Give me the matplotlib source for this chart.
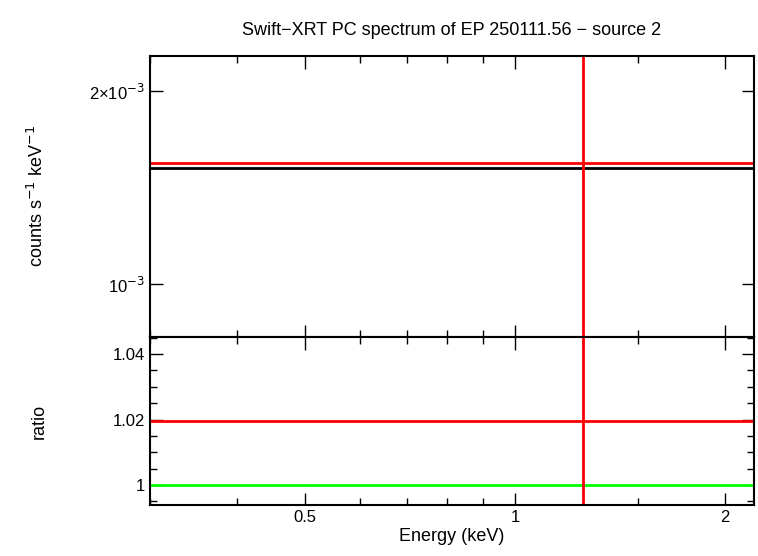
import matplotlib
matplotlib.use("Agg")
import matplotlib.pyplot as plt
from matplotlib import ticker

plt.rcParams["font.family"] = "Liberation Sans"

# data
energy_range = [0.3, 2.2]
model_level = 1.52e-3
data_level = 1.545e-3
ratio_level = 1.0195
unity = 1.0
vline_energy = 1.252

fig = plt.figure(figsize=(7.58, 5.56), dpi=100)
ax1 = fig.add_axes([150/758, 1-337/556, 604/758, 281/556])
ax2 = fig.add_axes([150/758, 1-505/556, 604/758, 168/556], sharex=ax1)

ax1.plot(energy_range, [model_level]*2, color="black", lw=2)
ax1.plot(energy_range, [data_level]*2, color="red", lw=2)
ax1.axvline(vline_energy, color="red", lw=2)
ax1.set_xscale("log")
ax1.set_yscale("log")
ax1.set_xlim(*energy_range)
ax1.set_ylim(8.27e-4, 2.27e-3)
ax1.set_yticks([1e-3, 2e-3])
ax1.set_yticklabels(["10$^{-3}$", "2×10$^{-3}$"])
ax1.yaxis.set_minor_locator(ticker.NullLocator())
ax1.set_ylabel("counts s$^{-1}$ keV$^{-1}$", fontsize=13)
ax1.tick_params(labelbottom=False)
ax1.set_title("Swift−XRT PC spectrum of EP 250111.56 − source 2", fontsize=13, pad=15)

ax2.plot(energy_range, [unity]*2, color="#00ff00", lw=2)
ax2.plot(energy_range, [ratio_level]*2, color="red", lw=2)
ax2.axvline(vline_energy, color="red", lw=2)
ax2.set_ylim(0.9939, 1.0452)
ax2.set_yticks([1, 1.02, 1.04])
ax2.set_yticklabels(["1", "1.02", "1.04"])
ax2.yaxis.set_minor_locator(ticker.MultipleLocator(0.005))
ax2.set_xticks([0.5, 1, 2])
ax2.set_xticklabels(["0.5", "1", "2"])
ax2.xaxis.set_minor_locator(ticker.FixedLocator([0.3, 0.4, 0.6, 0.7, 0.8, 0.9, 1.5]))
ax2.xaxis.set_minor_formatter(ticker.NullFormatter())
ax2.set_xlabel("Energy (keV)", fontsize=13, labelpad=2)
ax2.set_ylabel("ratio", fontsize=13)

for ax in (ax1, ax2):
    ax.tick_params(which="both", direction="in", top=True, right=True, labelsize=12)
    ax.tick_params(which="major", length=9, width=1)
    ax.tick_params(which="minor", length=5, width=1)
    for s in ax.spines.values():
        s.set_linewidth(1.5)
ax1.yaxis.set_label_coords(-0.17, 0.5)
ax2.yaxis.set_label_coords(-0.17, 0.5)

fig.savefig("out.png", dpi=100)
